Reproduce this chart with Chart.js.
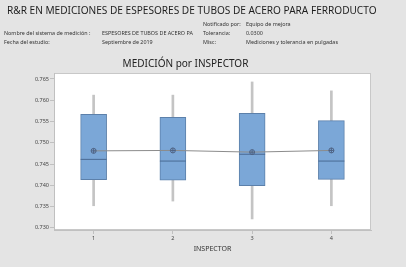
<!DOCTYPE html>
<html>
<head>
<meta charset="utf-8">
<script src="https://cdn.jsdelivr.net/npm/chart.js@4.4.1/dist/chart.umd.min.js"></script>
<style>
  html, body { margin: 0; padding: 0; background: #e4e4e4; }
  #wrap { position: relative; width: 406px; height: 267px; overflow: hidden; font-family: "Noto Sans", sans-serif; color: #222; }
  #wrap canvas { position: absolute; left: 0; top: 0; }
  .t { position: absolute; white-space: nowrap; line-height: 1; }
  #title { left: 7px; top: 5px; font-size: 13px; color: #1e1e1e; }
  .info { font-size: 5.4px; color: #333; }
</style>
</head>
<body>
<div id="wrap">
  <canvas id="chart" width="406" height="267"></canvas>
  <div id="title" class="t">R&amp;R EN MEDICIONES DE ESPESORES DE TUBOS DE ACERO PARA FERRODUCTO</div>
  <div class="t info" style="left:203px;top:22px">Notificado por:</div>
  <div class="t info" style="left:246px;top:22px">Equipo de mejora</div>
  <div class="t info" style="left:4px;top:31px">Nombre del sistema de medición :</div>
  <div class="t info" style="left:102px;top:31px">ESPESORES DE TUBOS DE ACERO PA</div>
  <div class="t info" style="left:203px;top:31px">Tolerancia:</div>
  <div class="t info" style="left:246px;top:31px">0.0300</div>
  <div class="t info" style="left:4px;top:40px">Fecha del estudio:</div>
  <div class="t info" style="left:102px;top:40px">Septiembre de 2019</div>
  <div class="t info" style="left:203px;top:40px">Misc:</div>
  <div class="t info" style="left:246px;top:40px">Mediciones y tolerancia en pulgadas</div>
</div>
<script>
(function () {
    "use strict";

    // data
    const inspectors = ["1", "2", "3", "4"];
    const whiskerLow = [0.7352, 0.7363, 0.7321, 0.7352];
    const q1 = [0.7413, 0.7412, 0.7399, 0.7414];
    const median = [0.7461, 0.7457, 0.7473, 0.7457];
    const q3 = [0.7567, 0.7560, 0.7569, 0.7552];
    const whiskerHigh = [0.7612, 0.7612, 0.7643, 0.7622];
    const means = [0.7481, 0.7482, 0.7478, 0.7482];
    const yTicks = [0.730, 0.735, 0.740, 0.745, 0.750, 0.755, 0.760, 0.765];

    // fit header title to its width in the reference
    const title = document.getElementById("title");
    title.style.fontSize = (13 * 370 / title.offsetWidth) + "px";

    const plotBg = {
        id: "plotBg",
        beforeDraw(chart) {
            const a = chart.chartArea, ctx = chart.ctx;
            ctx.save();
            ctx.fillStyle = "#ffffff";
            ctx.fillRect(a.left, a.top, a.right - a.left, a.bottom - a.top);
            ctx.strokeStyle = "#c8c8c8";
            ctx.lineWidth = 1;
            ctx.strokeRect(a.left + 0.5, a.top + 0.5, a.right - a.left - 1, a.bottom - a.top - 1);
            ctx.restore();
        }
    };

    new Chart(document.getElementById("chart"), {
        type: "bar",
        data: {
            labels: inspectors,
            datasets: [
                {
                    type: "line",
                    data: means,
                    borderColor: "#8c8c8c",
                    borderWidth: 1,
                    pointRadius: 0,
                    order: 1,
                },
                {
                    type: "line",
                    data: means,
                    showLine: false,
                    pointStyle: "circle",
                    pointRadius: 2.5,
                    pointBorderWidth: 1,
                    pointBorderColor: "#4f6384",
                    pointBackgroundColor: "rgba(0,0,0,0)",
                    order: 0,
                },
                {
                    type: "line",
                    data: means,
                    showLine: false,
                    pointStyle: "cross",
                    pointRadius: 2.5,
                    pointBorderWidth: 1,
                    pointBorderColor: "#4f6384",
                    order: 0,
                },
                {
                    type: "line",
                    data: median,
                    showLine: false,
                    pointStyle: "line",
                    pointRadius: 13,
                    pointBorderWidth: 1,
                    pointBorderColor: "#4a6a94",
                    order: 2,
                },
                {
                    data: inspectors.map((_, i) => [q1[i], q3[i]]),
                    backgroundColor: "#7ba7d7",
                    borderColor: "#5c80aa",
                    borderWidth: 1,
                    borderSkipped: false,
                    barThickness: 26,
                    grouped: false,
                    order: 3,
                },
                {
                    data: inspectors.map((_, i) => [whiskerLow[i], whiskerHigh[i]]),
                    backgroundColor: "#c4c4c4",
                    borderWidth: 0,
                    barThickness: 2,
                    grouped: false,
                    order: 4,
                },
            ],
        },
        options: {
            responsive: false,
            animation: false,
            devicePixelRatio: 1,
            layout: {
                padding: { top: 0, right: 35, bottom: 0, left: 0 },
            },
            plugins: {
                legend: { display: false },
                tooltip: { enabled: false },
                title: {
                    display: true,
                    text: "MEDICIÓN por INSPECTOR",
                    color: "#222",
                    font: { family: "Noto Sans", size: 10, weight: "normal", lineHeight: 1.2 },
                    padding: { top: 58, bottom: 3 },
                },
            },
            scales: {
                x: {
                    offset: true,
                    grid: { offset: false, drawOnChartArea: false, tickLength: 4, color: "#c0c0c0" },
                    border: { color: "#c0c0c0" },
                    ticks: { color: "#444", padding: 1, font: { family: "Noto Sans", size: 5.5 } },
                    title: {
                        display: true,
                        text: "INSPECTOR",
                        color: "#333",
                        font: { family: "Noto Sans", size: 7 },
                        padding: { top: 0, bottom: 14 },
                    },
                    afterFit(s) { s.height = 37; },
                },
                y: {
                    min: 0.7295,
                    max: 0.7664,
                    afterBuildTicks(s) { s.ticks = yTicks.map((v) => ({ value: v })); },
                    grid: { drawOnChartArea: false, tickLength: 4, color: "#c0c0c0" },
                    border: { color: "#c0c0c0" },
                    ticks: {
                        color: "#444",
                        padding: 1,
                        font: { family: "Noto Sans", size: 5.5 },
                        callback: (v) => v.toFixed(3),
                    },
                    afterFit(s) { s.width = 54; },
                },
            },
        },
        plugins: [plotBg],
    });
})();
</script>
</body>
</html>
